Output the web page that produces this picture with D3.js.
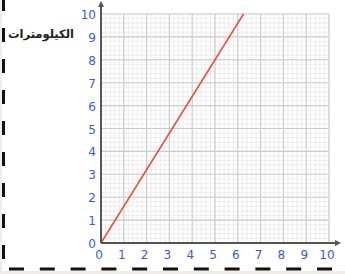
<!DOCTYPE html>
<html>
<head>
<meta charset="utf-8">
<script src="https://cdn.jsdelivr.net/npm/d3@7"></script>
<style>
  html, body { margin: 0; padding: 0; background: #efede8; }
  svg { display: block; }
</style>
</head>
<body>
<svg id="chart" width="345" height="274"></svg>
<script>
const xTicks = [0, 1, 2, 3, 4, 5, 6, 7, 8, 9, 10];
const yTicks = [0, 1, 2, 3, 4, 5, 6, 7, 8, 9, 10];
// red line: distance (km) against the x units
const lineX = [0, 6.25];
const lineY = [0, 10];
const yTitle = "الكيلومترات";

const svg = d3.select("#chart");

// white page with the beige strip at the left and bottom
svg.append("rect")
  .attr("x", 2).attr("y", 0)
  .attr("width", 343).attr("height", 271)
  .attr("fill", "white");

const x = d3.scaleLinear().domain([0, 10]).range([101, 329]);
const y = d3.scaleLinear().domain([0, 10]).range([243, 14]);

const grid = svg.append("g").attr("class", "grid");
const minor = d3.range(0, 10.001, 0.2);
grid.selectAll(".vmin").data(minor).join("line")
  .attr("x1", d => x(d)).attr("x2", d => x(d))
  .attr("y1", y(0)).attr("y2", y(10))
  .attr("stroke", "#e3e3e3").attr("stroke-width", 0.6);
grid.selectAll(".hmin").data(minor).join("line")
  .attr("y1", d => y(d)).attr("y2", d => y(d))
  .attr("x1", x(0)).attr("x2", x(10))
  .attr("stroke", "#e3e3e3").attr("stroke-width", 0.6);
grid.selectAll(".vmaj").data(xTicks).join("line")
  .attr("x1", d => x(d)).attr("x2", d => x(d))
  .attr("y1", y(0)).attr("y2", y(10))
  .attr("stroke", "#cbcbcb").attr("stroke-width", 1.1);
grid.selectAll(".hmaj").data(yTicks).join("line")
  .attr("y1", d => y(d)).attr("y2", d => y(d))
  .attr("x1", x(0)).attr("x2", x(10))
  .attr("stroke", "#cbcbcb").attr("stroke-width", 1.1);

// red line
svg.append("path")
  .datum(lineX.map((d, i) => [d, lineY[i]]))
  .attr("fill", "none")
  .attr("stroke", "#e8533f")
  .attr("stroke-width", 1.6)
  .attr("d", d3.line().x(d => x(d[0])).y(d => y(d[1])));

// axes with arrows
const axisColor = "#555";
svg.append("line")
  .attr("x1", x(0)).attr("x2", x(0))
  .attr("y1", y(0)).attr("y2", 5)
  .attr("stroke", axisColor).attr("stroke-width", 2);
svg.append("path")
  .attr("d", `M${x(0) - 3},7 L${x(0)},1 L${x(0) + 3},7 Z`)
  .attr("fill", axisColor);
svg.append("line")
  .attr("x1", x(0)).attr("x2", 337)
  .attr("y1", y(0)).attr("y2", y(0))
  .attr("stroke", axisColor).attr("stroke-width", 2);
svg.append("path")
  .attr("d", `M335,${y(0) - 3} L341,${y(0)} L335,${y(0) + 3} Z`)
  .attr("fill", axisColor);

// tick labels
const labelFont = "'DejaVu Sans', sans-serif";
svg.selectAll(".xl").data(xTicks).join("text")
  .attr("x", d => x(d) - 2)
  .attr("y", 259)
  .attr("text-anchor", "middle")
  .attr("font-family", labelFont)
  .attr("font-size", 12)
  .attr("fill", "#3a5ad9")
  .text(d => d);
svg.selectAll(".yl").data(yTicks).join("text")
  .attr("x", 96)
  .attr("y", d => y(d) + 5)
  .attr("text-anchor", "end")
  .attr("font-family", labelFont)
  .attr("font-size", 12)
  .attr("fill", "#3a5ad9")
  .text(d => d);

// axis title
svg.append("text")
  .attr("x", 41).attr("y", 38)
  .attr("text-anchor", "middle")
  .attr("font-family", "'DejaVu Sans', sans-serif")
  .attr("font-weight", "bold")
  .attr("font-size", 11.5)
  .attr("fill", "#222")
  .text(yTitle);

// dashed frame at left and bottom
svg.append("line")
  .attr("x1", 3.5).attr("x2", 3.5)
  .attr("y1", -3).attr("y2", 262)
  .attr("stroke", "#111").attr("stroke-width", 3)
  .attr("stroke-dasharray", "14,17");
svg.append("line")
  .attr("x1", 9).attr("x2", 333)
  .attr("y1", 269).attr("y2", 269)
  .attr("stroke", "#111").attr("stroke-width", 3)
  .attr("stroke-dasharray", "15,15.8");
</script>
</body>
</html>
